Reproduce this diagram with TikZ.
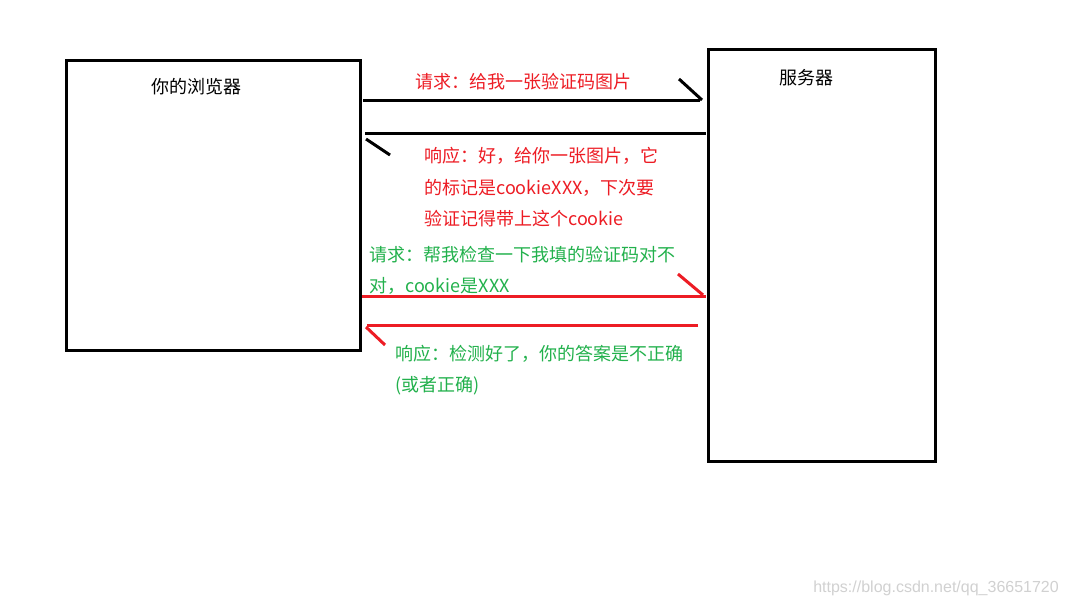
\documentclass[tikz,border=0pt]{standalone}
\usepackage{fontspec}
\setmainfont{Noto Sans CJK SC}
\newfontfamily\wmfont{Liberation Sans}
\definecolor{pred}{RGB}{237,28,36}
\definecolor{pgreen}{RGB}{34,177,76}
\begin{document}
\begin{tikzpicture}[x=0.75pt,y=-0.75pt,
  box/.style={draw=black,line width=2.25pt},
  wire/.style={line width=2.25pt},
  lbl/.style={anchor=west,inner sep=0pt,font=\fontsize{13.5pt}{16pt}\selectfont},
  redtxt/.style={lbl,text=pred},
  greentxt/.style={lbl,text=pgreen}]
\useasboundingbox[fill=white] (0,0) rectangle (1066,606);
% boxes
\draw[box] (66,61) rectangle (360,350);
\draw[box] (708,50) rectangle (935,461);
\node[lbl,text=black] (browser) at (151,87) {你的浏览器};
\node[lbl,text=black] (server) at (779,78) {服务器};
% arrow 1 (request)
\coordinate (a1s) at (363,101);
\coordinate (a1e) at (700,101);
\coordinate (a1b) at (679,79);
\draw[wire] (a1s) -- (a1e);
\draw[wire] (a1b) -- (702,100);
\node[redtxt] (t1) at (415,82) {请求：给我一张验证码图片};
% arrow 2 (response)
\coordinate (a2s) at (706,134);
\coordinate (a2e) at (365,134);
\draw[wire] (a2s) -- (a2e);
\draw[wire] (366,139) -- (390,155);
\node[redtxt] (t2a) at (424,156) {响应：好，给你一张图片，它};
\node[redtxt] (t2b) at (424,188) {的标记是cookieXXX，下次要};
\node[redtxt] (t2c) at (424,219) {验证记得带上这个cookie};
% arrow 3
\node[greentxt] (t3a) at (369,255) {请求：帮我检查一下我填的验证码对不};
\node[greentxt] (t3b) at (369,286) {对，cookie是XXX};
\coordinate (a3s) at (362,296);
\coordinate (a3e) at (706,296);
\draw[wire,draw=pred] (a3s) -- (a3e);
\draw[wire,draw=pred] (678,274) -- (703,295);
% arrow 4
\coordinate (a4s) at (698,325);
\coordinate (a4e) at (367,325);
\draw[wire,draw=pred] (a4s) -- (a4e);
\draw[wire,draw=pred] (366,327) -- (385,345);
\node[greentxt] (t4a) at (395,354) {响应：检测好了，你的答案是不正确};
\node[greentxt] (t4b) at (395,386) {(或者正确)};
% watermark
\node[anchor=west,inner sep=0pt,text=black!18,font=\wmfont\fontsize{12pt}{14pt}\selectfont] (wm) at (813,588) {https://blog.csdn.net/qq\_36651720};
\end{tikzpicture}
\end{document}
